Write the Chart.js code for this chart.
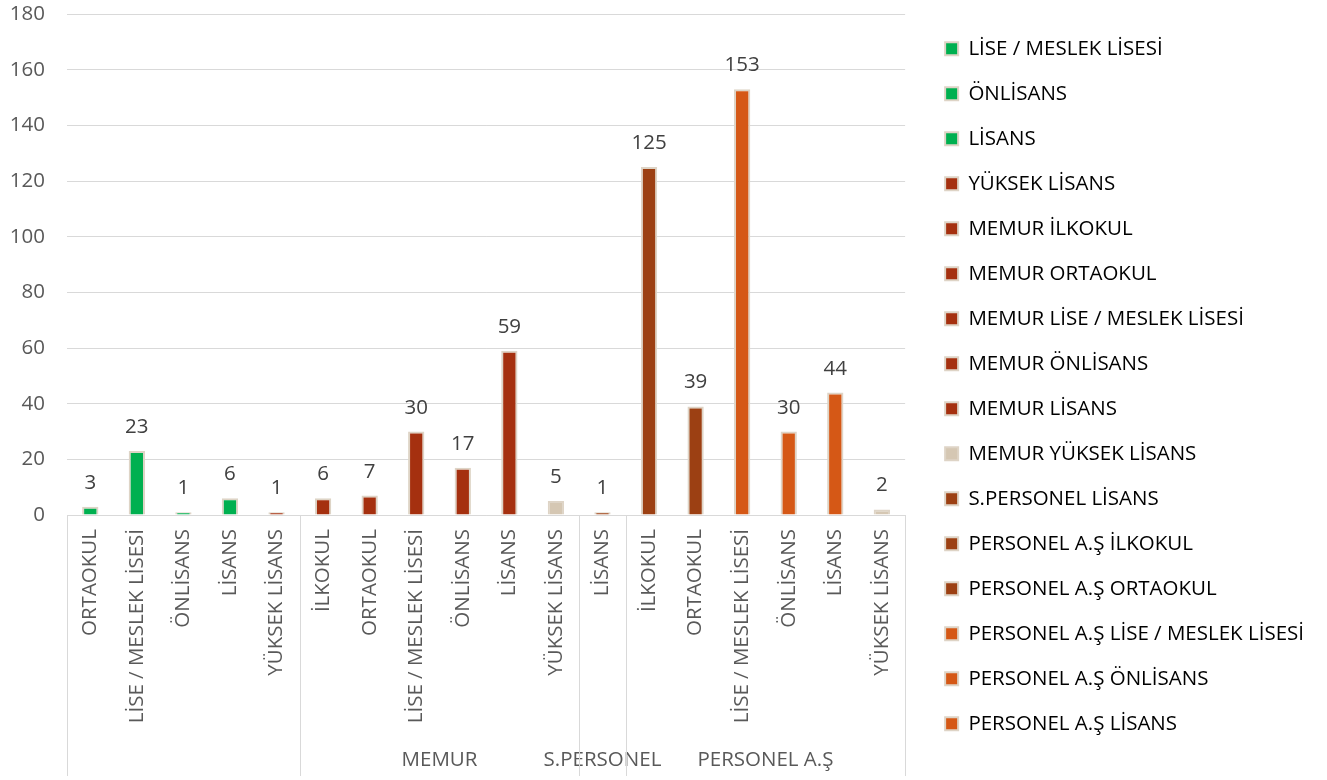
<!DOCTYPE html>
<html>
<head>
<meta charset="utf-8">
<script src="https://cdn.jsdelivr.net/npm/chart.js@4"></script>
<style>
  html, body { margin: 0; padding: 0; background: #fff; }
</style>
</head>
<body>
<canvas id="myChart" width="1327" height="780"></canvas>
<script>
// data
const categories = [
  "ORTAOKUL", "LİSE / MESLEK LİSESİ", "ÖNLİSANS", "LİSANS", "YÜKSEK LİSANS",
  "İLKOKUL", "ORTAOKUL", "LİSE / MESLEK LİSESİ", "ÖNLİSANS", "LİSANS", "YÜKSEK LİSANS",
  "LİSANS",
  "İLKOKUL", "ORTAOKUL", "LİSE / MESLEK LİSESİ", "ÖNLİSANS", "LİSANS", "YÜKSEK LİSANS"
];
const values = [3, 23, 1, 6, 1, 6, 7, 30, 17, 59, 5, 1, 125, 39, 153, 30, 44, 2];
const groupNames = ["", "MEMUR", "S.PERSONEL", "PERSONEL A.Ş"];
const groupSizes = [5, 6, 1, 6];
const yTicks = [0, 20, 40, 60, 80, 100, 120, 140, 160, 180];

const GREEN = "#00B050", RED = "#A5300F", BROWN = "#9C4013", ORANGE = "#D55816", TAN = "#D5C7B3";
const barColors = [
  GREEN, GREEN, GREEN, GREEN, RED,
  RED, RED, RED, RED, RED, TAN,
  BROWN,
  BROWN, BROWN, ORANGE, ORANGE, ORANGE, TAN
];
const edge = "#DED4C6";

// group name of each bar
const barGroup = [];
groupSizes.forEach((n, g) => { for (let i = 0; i < n; i++) barGroup.push(groupNames[g]); });

// legend in the reference shows bars 2..17 only
const legendFrom = 1, legendTo = 16;

const FS = 20.5;
Chart.defaults.font.family = "'Open Sans', 'Noto Sans', sans-serif";
Chart.defaults.font.size = FS;
Chart.defaults.color = "#595959";

const valueLabels = {
  id: "valueLabels",
  afterDatasetsDraw(chart) {
    const ctx = chart.ctx;
    const meta = chart.getDatasetMeta(0);
    ctx.save();
    ctx.font = FS + "px 'Open Sans'";
    ctx.fillStyle = "#404040";
    ctx.textAlign = "center";
    ctx.textBaseline = "alphabetic";
    meta.data.forEach((bar, i) => {
      ctx.fillText(String(values[i]), bar.x, bar.y - 18);
    });
    ctx.restore();
  }
};

const groupAxis = {
  id: "groupAxis",
  afterDraw(chart) {
    const ctx = chart.ctx;
    const x = chart.scales.x;
    const area = chart.chartArea;
    const n = categories.length;
    const edgeX = (b) => b === 0 ? area.left : b === n ? area.right
      : (x.getPixelForValue(b - 1) + x.getPixelForValue(b)) / 2;
    ctx.save();
    ctx.strokeStyle = "#D9D9D9";
    ctx.lineWidth = 1;
    ctx.font = FS + "px 'Open Sans'";
    ctx.fillStyle = "#595959";
    ctx.textAlign = "center";
    ctx.textBaseline = "middle";
    let start = 0;
    const bounds = [0];
    groupSizes.forEach((s, g) => {
      const end = start + s;
      bounds.push(end);
      if (groupNames[g]) {
        ctx.fillText(groupNames[g], (edgeX(start) + edgeX(end)) / 2, 760);
      }
      start = end;
    });
    bounds.forEach(b => {
      const px = Math.round(edgeX(b)) + 0.5;
      ctx.beginPath();
      ctx.moveTo(px, area.bottom);
      ctx.lineTo(px, 776);
      ctx.stroke();
    });
    ctx.restore();
  }
};

new Chart(document.getElementById("myChart"), {
  type: "bar",
  data: {
    labels: categories,
    datasets: [{
      data: values,
      backgroundColor: barColors,
      borderColor: edge,
      borderWidth: 2,
      borderSkipped: "bottom",
      barPercentage: 0.35,
      categoryPercentage: 1
    }]
  },
  options: {
    responsive: false,
    animation: false,
    layout: { padding: { top: 14, right: 13, bottom: 0, left: 0 } },
    plugins: {
      tooltip: { enabled: false },
      legend: {
        position: "right",
        align: "start",
        maxWidth: 430,
        labels: {
          boxWidth: 13,
          boxHeight: 13,
          padding: 24.5,
          color: "#595959",
          font: { size: FS },
          generateLabels() {
            const items = [];
            for (let i = legendFrom; i <= legendTo; i++) {
              items.push({
                text: (barGroup[i] ? barGroup[i] + " " : "") + categories[i],
                fillStyle: barColors[i],
                strokeStyle: edge,
                lineWidth: 2,
                hidden: false,
                index: i
              });
            }
            return items;
          }
        }
      }
    },
    scales: {
      x: {
        grid: { display: false, drawTicks: false },
        border: { display: false },
        ticks: { autoSkip: false, minRotation: 90, maxRotation: 90, padding: 14, color: "#595959" },
        afterFit(s) { s.height = 265; }
      },
      y: {
        min: 0,
        max: 180,
        grid: { color: "#D9D9D9", drawTicks: true, tickLength: 22, tickColor: "rgba(0,0,0,0)" },
        border: { display: false },
        afterBuildTicks(s) { s.ticks = yTicks.map(v => ({ value: v })); },
        ticks: { padding: 0, color: "#595959" },
        afterFit(s) { s.width = 67; }
      },
      y2: {
        position: "right",
        grid: { display: false, drawTicks: false },
        border: { display: false },
        ticks: { display: false },
        afterFit(s) { s.width = 15.5; }
      }
    }
  },
  plugins: [valueLabels, groupAxis]
});
</script>
</body>
</html>
